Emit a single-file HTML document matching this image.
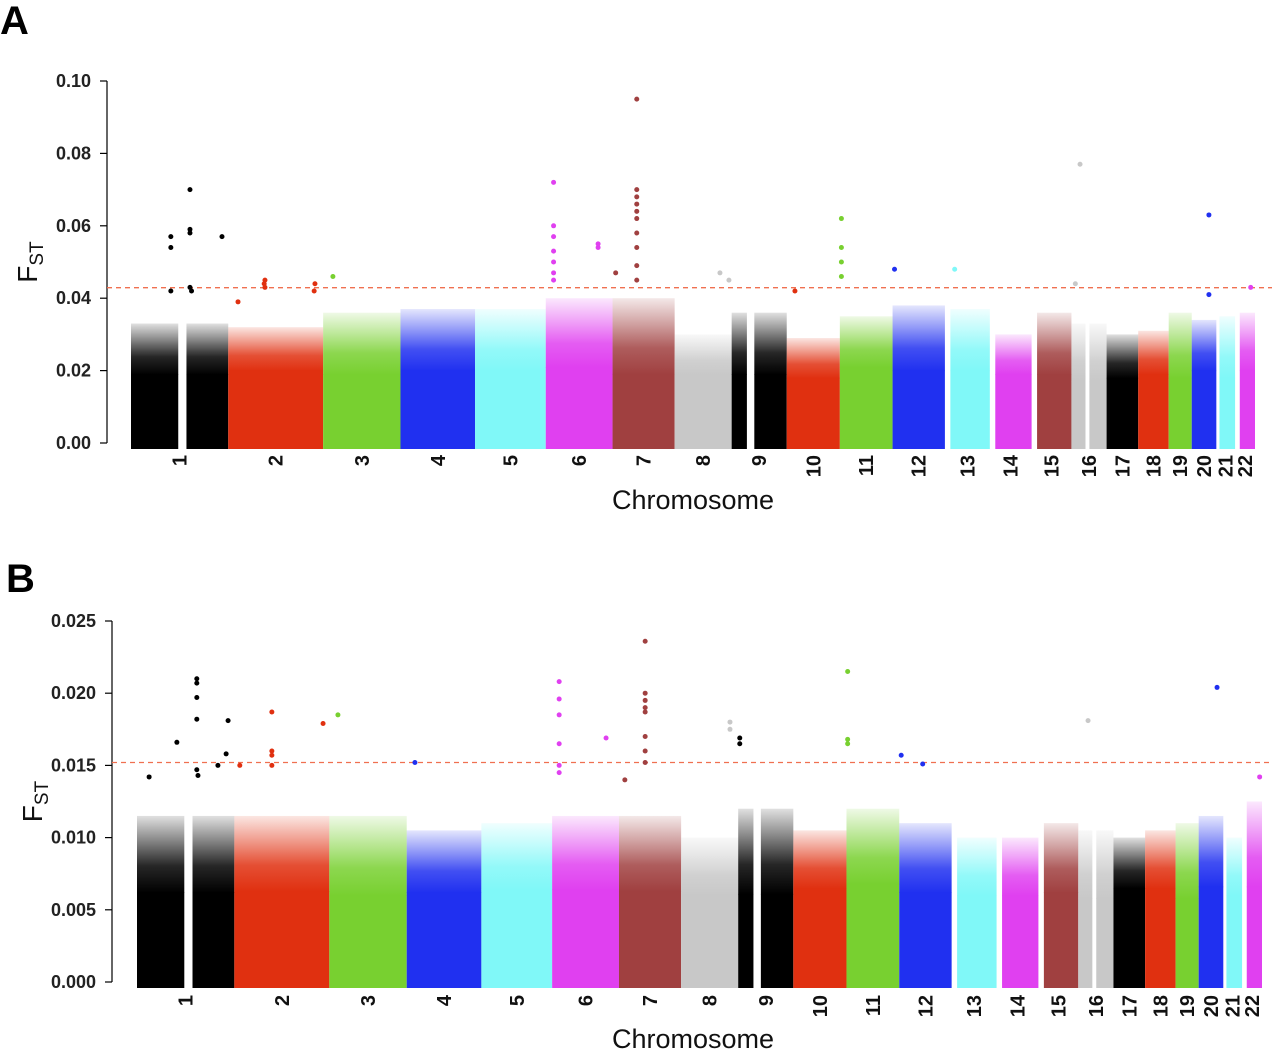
<!DOCTYPE html>
<html><head><meta charset="utf-8">
<style>
html,body{margin:0;padding:0;background:#fff;}
svg{display:block;font-family:"Liberation Sans",Arial,sans-serif;}
</style></head>
<body>
<svg id="chart" width="1280" height="1050" viewBox="0 0 1280 1050" xmlns="http://www.w3.org/2000/svg">
<defs id="defs"></defs>
<text x="0" y="34" font-size="40" font-weight="bold">A</text>
<text x="6" y="592" font-size="40" font-weight="bold">B</text>
<g id="panelA"></g>
<g id="panelB"></g>
</svg>
<script>
// Chromosome data
const chromNames = ["1","2","3","4","5","6","7","8","9","10","11","12","13","14","15","16","17","18","19","20","21","22"];
const chromLengths = [249,243,198,191,181,171,159,146,141,136,135,134,115,107,102,90,81,78,59,63,48,51];
const chromColors = ["#000000","#e03010","#78d030","#2030f0","#80f8f8","#e040f0","#a04040","#c8c8c8","#000000","#e03010","#78d030","#2030f0","#80f8f8","#e040f0","#a04040","#c8c8c8","#000000","#e03010","#78d030","#2030f0","#80f8f8","#e040f0"];
// data segments (Mb) per chromosome (gaps = centromere / acrocentric arms)
const chromSegments = [[[0,121],[142,249]],[[0,243]],[[0,198]],[[0,191]],[[0,181]],[[0,171]],[[0,159]],[[0,146]],[[0,39],[58,141]],[[0,136]],[[0,135]],[[0,134]],[[14,115]],[[14,107]],[[14,102]],[[0,36],[46,90]],[[0,81]],[[0,78]],[[0,59]],[[0,63]],[[8,48]],[[12,51]]];

// Panel A values
const bulkA = [0.019,0.020,0.019,0.020,0.020,0.021,0.019,0.019,0.019,0.018,0.021,0.020,0.020,0.019,0.019,0.017,0.018,0.019,0.018,0.020,0.018,0.020];
const fringeA = [0.033,0.032,0.036,0.037,0.037,0.040,0.040,0.030,0.036,0.029,0.035,0.038,0.037,0.030,0.036,0.033,0.030,0.031,0.036,0.034,0.035,0.036];
const peaksA = [[0,102,0.057],[0,102,0.054],[0,102,0.042],[0,151,0.070],[0,151,0.059],[0,151,0.058],[0,151,0.043],[0,155,0.042],[0,233,0.057],
 [1,25,0.039],[1,94,0.045],[1,92,0.044],[1,94,0.043],[1,222,0.044],[1,220,0.042],[2,25,0.046],
 [5,20,0.072],[5,20,0.060],[5,20,0.057],[5,20,0.053],[5,20,0.050],[5,20,0.047],[5,20,0.045],[5,134,0.055],[5,134,0.054],
 [6,8,0.047],[6,62,0.095],[6,62,0.070],[6,62,0.068],[6,62,0.066],[6,62,0.064],[6,62,0.062],[6,62,0.058],[6,62,0.054],[6,62,0.049],[6,62,0.045],
 [7,116,0.047],[7,139,0.045],[9,21,0.042],[10,4,0.062],[10,4,0.054],[10,4,0.050],[10,4,0.046],[11,5,0.048],[12,25,0.048],
 [15,22,0.077],[15,10,0.044],[19,44,0.063],[19,44,0.041],[21,40,0.043]];
const ticksA = ["0.00","0.02","0.04","0.06","0.08","0.10"];
const thresholdA = 0.0429;

// Panel B values
const bulkB = [0.0062,0.0063,0.0060,0.0062,0.0064,0.0064,0.0063,0.0060,0.0061,0.0065,0.0068,0.0062,0.0060,0.0060,0.0062,0.0058,0.0065,0.0065,0.0058,0.0066,0.0060,0.0066];
const fringeB = [0.0115,0.0115,0.0115,0.0105,0.0110,0.0115,0.0115,0.0100,0.0120,0.0105,0.0120,0.0110,0.0100,0.0100,0.0110,0.0105,0.0100,0.0105,0.0110,0.0115,0.0100,0.0125];
const peaksB = [[0,31,0.0142],[0,102,0.0166],[0,153,0.0210],[0,153,0.0207],[0,153,0.0197],[0,153,0.0182],[0,153,0.0147],[0,156,0.0143],[0,207,0.0150],[0,228,0.0158],[0,233,0.0181],
 [1,14,0.0150],[1,96,0.0187],[1,96,0.0160],[1,96,0.0157],[1,96,0.0150],[1,227,0.0179],[2,22,0.0185],[3,21,0.0152],
 [5,18,0.0208],[5,18,0.0196],[5,18,0.0185],[5,18,0.0165],[5,18,0.0150],[5,18,0.0145],[5,138,0.0169],
 [6,15,0.0140],[6,67,0.0236],[6,67,0.0200],[6,67,0.0195],[6,67,0.0190],[6,67,0.0187],[6,67,0.0170],[6,67,0.0160],[6,67,0.0152],
 [7,125,0.0180],[7,125,0.0175],[8,4,0.0169],[8,4,0.0165],[10,3,0.0215],[10,3,0.0168],[10,3,0.0165],[11,5,0.0157],[11,60,0.0151],
 [15,25,0.0181],[19,47,0.0204],[21,45,0.0142]];
const ticksB = ["0.000","0.005","0.010","0.015","0.020","0.025"];
const thresholdB = 0.0152;

const NS = "http://www.w3.org/2000/svg";
const defs = document.getElementById('defs');
function mk(tag, attrs, parent){const e=document.createElementNS(NS,tag);for(const k in attrs)e.setAttribute(k,attrs[k]);parent.appendChild(e);return e;}

chromColors.forEach((c,i)=>{
  const g=mk('linearGradient',{id:'fg'+i,x1:0,y1:1,x2:0,y2:0},defs);
  mk('stop',{offset:'0','stop-color':c,'stop-opacity':1},g);
  mk('stop',{offset:'0.35','stop-color':c,'stop-opacity':0.85},g);
  mk('stop',{offset:'0.7','stop-color':c,'stop-opacity':0.45},g);
  mk('stop',{offset:'1','stop-color':c,'stop-opacity':0.12},g);
});

const total = chromLengths.reduce((a,b)=>a+b,0);
const cumStart=[];let acc=0;chromLengths.forEach(l=>{cumStart.push(acc);acc+=l;});

function drawPanel(g, cfg){
  const xScale = (chr,mb)=>cfg.x0 + (cumStart[chr]+mb)/total*(cfg.x1-cfg.x0);
  const yScale = v=>cfg.yBot - v/cfg.yMax*(cfg.yBot-cfg.yTop);
  const ax=mk('line',{x1:cfg.axX,x2:cfg.axX,y1:yScale(0),y2:yScale(cfg.yMax),stroke:'#000','stroke-width':1.2},g);
  
  
  cfg.ticks.forEach(t=>{
    const y=yScale(parseFloat(t));
    const tl=mk('line',{x1:cfg.axX-7,x2:cfg.axX,y1:y,y2:y,stroke:'#000','stroke-width':1.2},g);
    
    
    const tx=mk('text',{x:cfg.axX-16,y:y+6,'text-anchor':'end','font-size':18,'font-weight':'bold',fill:'#222'},g);
    tx.textContent=t;
    
    
  });
  const yc=(yScale(0)+yScale(cfg.yMax))/2;
  const yt=mk('text',{x:0,y:0,transform:`translate(${cfg.axX-70},${yc}) rotate(-90)`,'text-anchor':'middle','font-size':28,fill:'#111'},g);
  
  
  yt.innerHTML='F<tspan font-size="19" dy="6">ST</tspan>';
  chromNames.forEach((n,i)=>{
    chromSegments[i].forEach(seg=>{
      const xa=xScale(i,seg[0]), xb=xScale(i,seg[1]);
      const fr=mk('rect',{x:xa,y:yScale(cfg.fringe[i]),width:xb-xa,height:yScale(cfg.bulk[i])-yScale(cfg.fringe[i])+0.5,fill:`url(#fg${i})`},g);
      
      
      const r=mk('rect',{x:xa,y:yScale(cfg.bulk[i]),width:xb-xa,height:yScale(0)-yScale(cfg.bulk[i])+cfg.under,fill:chromColors[i]},g);
      
      
    });
    const cx=xScale(i,chromLengths[i]/2);
    const lb=mk('text',{x:0,y:0,transform:`translate(${cx+7},${cfg.labY}) rotate(-90)`,'text-anchor':'end','font-size':20,'font-weight':'bold',fill:'#111'},g);
    lb.textContent=n;
    
    
  });
  const th=mk('line',{x1:cfg.axX,x2:1272,y1:yScale(cfg.threshold),y2:yScale(cfg.threshold),stroke:'#f07050','stroke-width':1.3,'stroke-dasharray':'5,4'},g);
  
  
  cfg.peaks.forEach(p=>{
    const c=mk('circle',{cx:xScale(p[0],p[1]),cy:yScale(p[2]),r:2.5,fill:chromColors[p[0]]},g);
    
    
  });
  const xt=mk('text',{x:693,y:cfg.titleY,'text-anchor':'middle','font-size':27,fill:'#111'},g);
  xt.textContent='Chromosome';
  
  
}

drawPanel(document.getElementById('panelA'),{x0:131,x1:1255,axX:107,yTop:81,yBot:443,yMax:0.10,under:6,ticks:ticksA,bulk:bulkA,fringe:fringeA,peaks:peaksA,threshold:thresholdA,labY:455,titleY:509});
drawPanel(document.getElementById('panelB'),{x0:137,x1:1262,axX:112,yTop:621,yBot:982,yMax:0.025,under:6,ticks:ticksB,bulk:bulkB,fringe:fringeB,peaks:peaksB,threshold:thresholdB,labY:995,titleY:1048});
</script>
</body></html>
